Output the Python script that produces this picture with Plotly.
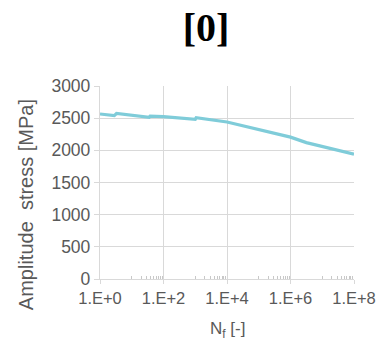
import plotly.graph_objects as go

# Data
log_cycles = [0.0, 0.45, 0.52, 1.55, 1.58, 2.0, 3.0, 3.03, 4.0, 5.0, 6.0, 6.5, 7.4, 8.0]
stress_mpa = [2565, 2540, 2572, 2513, 2532, 2523, 2482, 2508, 2440, 2325, 2205, 2120, 2005, 1940]
cycles = [10 ** v for v in log_cycles]

major_exps = [0, 2, 4, 6, 8]
major_vals = [10 ** e for e in major_exps]
major_text = ["1.E+%d" % e for e in major_exps]
minor_vals = [m * 10 ** (e + 1) for e in major_exps[:-1] for m in range(1, 10)]

title_text = "<b>[0]</b>"
x_title = "N<sub>f</sub> [-]"
y_title = "Amplitude  stress [MPa]"

gray = "#595959"
grid = "#d9d9d9"

fig = go.Figure()
fig.add_trace(go.Scatter(x=cycles, y=stress_mpa, mode="lines",
                         line=dict(color="#7fccd9", width=3.2), showlegend=False))

fig.update_layout(
    width=388, height=348,
    margin=dict(l=100, r=30, t=86, b=69),
    paper_bgcolor="white", plot_bgcolor="white",
    title=dict(text=title_text, x=206 / 388, xanchor="center", y=1 - 27 / 348, yanchor="middle",
               font=dict(family="Liberation Serif", size=40, color="black")),
    font=dict(family="Liberation Sans", color=gray, size=16.5),
)
fig.add_annotation(text=y_title, xref="paper", yref="paper", x=(25 - 100) / 258, y=(279 - 205) / 193,
                   xanchor="center", yanchor="middle", textangle=-90, showarrow=False,
                   font=dict(family="Liberation Sans", size=20, color=gray))
fig.add_annotation(text=x_title, xref="paper", yref="paper", x=(230 - 100) / 258, y=(279 - 330) / 193,
                   xanchor="center", yanchor="middle", showarrow=False,
                   font=dict(family="Liberation Sans", size=17, color=gray))
fig.update_xaxes(type="log", range=[0, 8], tickvals=major_vals, ticktext=major_text,
                 showgrid=True, gridcolor=grid, gridwidth=1.3,
                 showline=True, linecolor=grid, linewidth=1.3, mirror=False,
                 ticks="outside", ticklen=4, tickcolor=grid,
                 minor=dict(tickvals=minor_vals, ticks="inside", ticklen=3, tickcolor="#c8c8c8", showgrid=False),
                 tickfont=dict(size=16.5, color=gray),
                 zeroline=False)
fig.update_yaxes(range=[0, 3000], dtick=500, showgrid=True, gridcolor=grid, gridwidth=1.3,
                 showline=True, linecolor=grid, linewidth=1.3,
                 ticks="outside", ticklen=5, tickcolor=grid,
                 tickfont=dict(size=17.5, color=gray),
                 zeroline=False)

fig.write_html("out.html")
